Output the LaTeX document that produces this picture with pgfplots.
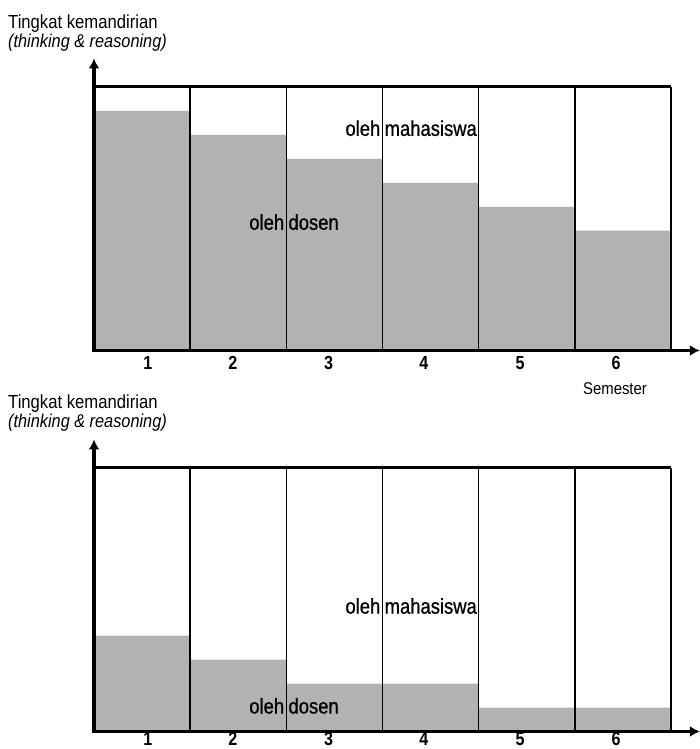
\documentclass[border=0pt]{standalone}
\usepackage{pgfplots}
\pgfplotsset{compat=1.18}
\usepackage{fontspec}
\setmainfont{Liberation Sans}[FakeStretch=0.88]
\newfontfamily\midfont{Liberation Sans}[FakeStretch=0.86, FakeBold=0.8]
\newfontfamily\digfont{Liberation Sans}[FakeStretch=0.85]
\usetikzlibrary{arrows.meta}
\definecolor{barg}{RGB}{178,178,178}
\pgfplotsset{
 kchart/.style={
  scale only axis, width=577bp, height=263.5bp,
  xmin=0, xmax=6, ymin=0, ymax=11,
  anchor=south west, clip=false,
  axis line style={draw=none}, tick style={draw=none}, ytick=\empty,
  xtick={0.56,1.445,2.44,3.43,4.43,5.43}, xticklabels={1,2,3,4,5,6},
  xticklabel style={font=\digfont\fontsize{19}{21}\selectfont\bfseries, anchor=north, inner sep=0pt, yshift=-6bp},
  /pgf/number format/assume math mode=true,
 }
}
\newcommand{\lab}{\midfont\fontsize{21.5}{25}\selectfont}
\newcommand{\frames}{%
  \draw[line width=1.6bp] (axis cs:1,0) -- (axis cs:1,11);
  \draw[line width=1.6bp] (axis cs:2,0) -- (axis cs:2,11);
  \draw[line width=1.6bp] (axis cs:3,0) -- (axis cs:3,11);
  \draw[line width=1.6bp] (axis cs:4,0) -- (axis cs:4,11);
  \draw[line width=1.6bp] (axis cs:5,0) -- (axis cs:5,11);
  \draw[line width=2bp] (axis cs:6,0) -- (axis cs:6,11);
  \draw[line width=3bp] (axis cs:0,11) -- (axis cs:6,11);
  \draw[line width=3.5bp, -{Latex[length=10bp,width=11bp]}] (axis cs:0,-0.07) -- (axis cs:0,12.19);
  \draw[line width=3.5bp, -{Latex[length=10bp,width=11bp]}] (axis cs:-0.018,0) -- (axis cs:6.3,0);
}
\begin{document}
\begin{tikzpicture}
\path[use as bounding box] (0,0) rectangle (700bp,749bp);
% ---------- top chart ----------
\node[anchor=base west, inner sep=0pt, font=\fontsize{19}{22}\selectfont] at (8bp,720bp) {Tingkat kemandirian};
\node[anchor=base west, inner sep=0pt, font=\fontsize{18.6}{22}\selectfont\itshape] at (8bp,701bp) {(thinking \& reasoning)};
\node[anchor=base, inner sep=0pt, font=\fontsize{17}{20}\selectfont] at (615bp,354bp) {Semester};
\begin{axis}[kchart, at={(94bp,398.5bp)}]
\addplot[ybar, bar width=1, fill=barg, draw=none] coordinates {(0.5,10) (1.5,9) (2.5,8) (3.5,7) (4.5,6) (5.5,5)};
\node[anchor=base east, inner sep=0pt, xshift=-2bp, font=\lab] at (axis cs:3,8.96) {oleh};
\node[anchor=base west, inner sep=0pt, xshift=2bp, font=\lab] at (axis cs:3,8.96) {mahasiswa};
\node[anchor=base east, inner sep=0pt, xshift=-2bp, font=\lab] at (axis cs:2,5.04) {oleh};
\node[anchor=base west, inner sep=0pt, xshift=2bp, font=\lab] at (axis cs:2,5.04) {dosen};
\frames
\end{axis}
% ---------- bottom chart ----------
\node[anchor=base west, inner sep=0pt, font=\fontsize{19}{22}\selectfont] at (8bp,340bp) {Tingkat kemandirian};
\node[anchor=base west, inner sep=0pt, font=\fontsize{18.6}{22}\selectfont\itshape] at (8bp,321bp) {(thinking \& reasoning)};
\begin{axis}[kchart, at={(94bp,17.5bp)}, xticklabel style={yshift=5bp}]
\addplot[ybar, bar width=1, fill=barg, draw=none] coordinates {(0.5,4) (1.5,3) (2.5,2) (3.5,2) (4.5,1) (5.5,1)};
\node[anchor=base east, inner sep=0pt, xshift=-2bp, font=\lab] at (axis cs:3,4.92) {oleh};
\node[anchor=base west, inner sep=0pt, xshift=2bp, font=\lab] at (axis cs:3,4.92) {mahasiswa};
\node[anchor=base east, inner sep=0pt, xshift=-2bp, font=\lab] at (axis cs:2,0.75) {oleh};
\node[anchor=base west, inner sep=0pt, xshift=2bp, font=\lab] at (axis cs:2,0.75) {dosen};
\frames
\end{axis}
\end{tikzpicture}
\end{document}
